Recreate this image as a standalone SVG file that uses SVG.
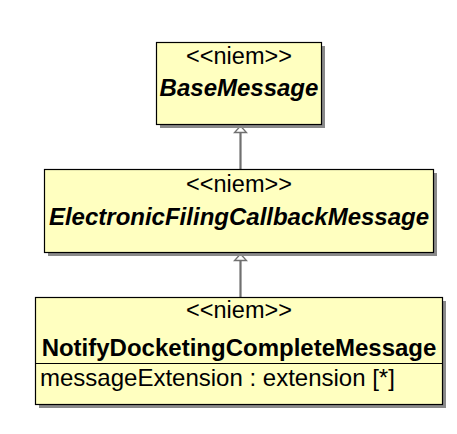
<svg xmlns="http://www.w3.org/2000/svg" width="457" height="434" viewBox="0 0 457 434">
<defs>
<style>
.box{fill:#ffffc0;stroke:#000;stroke-width:1.2}
.shadow{fill:#8a8a8a}
.st{font-family:"Liberation Sans",Arial,sans-serif;font-size:23.5px;fill:#000;text-anchor:middle}
.nm{font-family:"Liberation Sans",Arial,sans-serif;font-size:24px;font-weight:bold;fill:#000;text-anchor:middle}
.it{font-style:italic}
.at{font-family:"Liberation Sans",Arial,sans-serif;font-size:24px;fill:#000}
.conn{stroke:#707070;stroke-width:2.2;fill:none}
.head{fill:#fff;stroke:#707070;stroke-width:1.3}
</style>
</defs>
<rect width="457" height="434" fill="#fff"/>
<g id="connectors">
<line class="conn" x1="240.5" y1="169" x2="240.5" y2="132"/>
<polygon class="head" points="240.5,126 246.5,132.5 234.5,132.5"/>
<line class="conn" x1="240.5" y1="297" x2="240.5" y2="260"/>
<polygon class="head" points="240.5,254 246.5,260.5 234.5,260.5"/>
</g>
<g id="BaseMessage">
<rect class="shadow" x="160" y="46" width="165" height="82"/>
<rect class="box" x="156.5" y="42.5" width="165" height="82"/>
<text class="st" x="239" y="64">&lt;&lt;niem&gt;&gt;</text>
<text class="nm it" x="239" y="96">BaseMessage</text>
</g>
<g id="ElectronicFilingCallbackMessage">
<rect class="shadow" x="48" y="173" width="389" height="83"/>
<rect class="box" x="44.5" y="169.5" width="389" height="83"/>
<text class="st" x="239" y="192">&lt;&lt;niem&gt;&gt;</text>
<text class="nm it" x="239" y="225">ElectronicFilingCallbackMessage</text>
</g>
<g id="NotifyDocketingCompleteMessage">
<rect class="shadow" x="39" y="301" width="407" height="107"/>
<rect class="box" x="35.5" y="297.5" width="407" height="107"/>
<line x1="35.5" y1="363.5" x2="442.5" y2="363.5" stroke="#000" stroke-width="1.2"/>
<text class="st" x="239" y="318">&lt;&lt;niem&gt;&gt;</text>
<text class="nm" x="239" y="356">NotifyDocketingCompleteMessage</text>
<text class="at" x="40" y="386">messageExtension : extension [*]</text>
</g>
</svg>
